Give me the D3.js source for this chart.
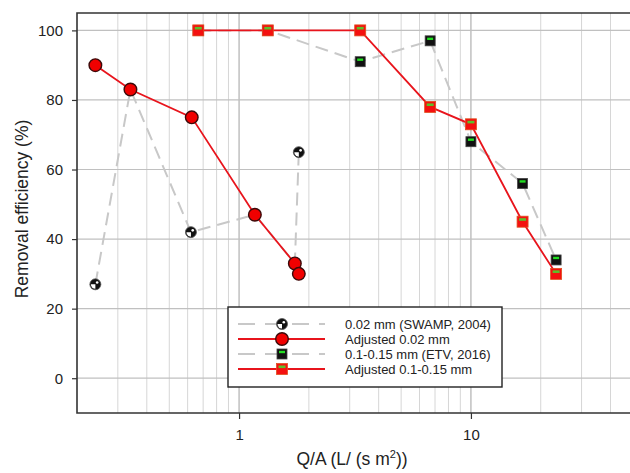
<!DOCTYPE html>
<html>
<head>
<meta charset="utf-8">
<script src="https://cdn.jsdelivr.net/npm/d3@7"></script>
<style>
  body { margin: 0; background: #fff; }
  svg { font-family: Arial, "Liberation Sans", sans-serif; }
</style>
</head>
<body>
<svg id="chart" width="630" height="473"></svg>
<script>
// data
const swampX = [0.24, 0.34, 0.62, 1.17, 1.74, 1.81];
const swampY = [27, 83, 42, 47, 33, 65];
const adjSwampX = [0.24, 0.34, 0.625, 1.17, 1.74, 1.81];
const adjSwampY = [90, 83, 75, 47, 33, 30];
const etvX = [0.667, 1.33, 3.33, 6.67, 10, 16.7, 23.3];
const etvY = [100, 100, 91, 97, 68, 56, 34];
const adjEtvY = [100, 100, 100, 78, 73, 45, 30];
const yTicks = [0, 20, 40, 60, 80, 100];
const xLabelTicks = [1, 10];
const legendLabels = ['0.02 mm (SWAMP, 2004)', 'Adjusted 0.02 mm', '0.1-0.15 mm (ETV, 2016)', 'Adjusted 0.1-0.15 mm'];

const svg = d3.select('#chart');
const m = { left: 77, top: 13, right: 633, bottom: 413 };

const x = d3.scaleLog().domain([0.2, 50]).range([m.left, m.right]);
const y = d3.scaleLinear().domain([-10, 105]).range([m.bottom, m.top]);

const zip = (xs, ys) => xs.map((v, i) => ({ x: v, y: ys[i] }));
const s1 = zip(swampX, swampY);
const s2 = zip(adjSwampX, adjSwampY);
const s3 = zip(etvX, etvY);
const s4 = zip(etvX, adjEtvY);

// grid
const minor = [];
[0.1, 1, 10].forEach(d => { for (let k = 2; k <= 9; k++) minor.push(d * k); });
const grid = svg.append('g');
grid.selectAll('.vminor').data(minor.filter(v => v > 0.2 && v < 50)).enter().append('line')
  .attr('x1', d => x(d)).attr('x2', d => x(d)).attr('y1', m.top).attr('y2', m.bottom)
  .attr('stroke', '#d6d6d6').attr('stroke-width', 1);
grid.selectAll('.vmajor').data(xLabelTicks).enter().append('line')
  .attr('x1', d => x(d)).attr('x2', d => x(d)).attr('y1', m.top).attr('y2', m.bottom)
  .attr('stroke', '#b0b0b0').attr('stroke-width', 1.2);
grid.selectAll('.h').data(yTicks).enter().append('line')
  .attr('x1', m.left).attr('x2', m.right).attr('y1', d => y(d)).attr('y2', d => y(d))
  .attr('stroke', '#c0c0c0').attr('stroke-width', 1.2);

// axes
const yAxis = svg.append('g').attr('transform', `translate(${m.left},0)`)
  .call(d3.axisLeft(y).tickValues(yTicks).tickSize(5).tickPadding(9));
const xAxis = svg.append('g').attr('transform', `translate(0,${m.bottom})`)
  .call(d3.axisBottom(x).tickValues(xLabelTicks).tickFormat(d3.format('d')).tickSize(6).tickPadding(10));
[yAxis, xAxis].forEach(a => {
  a.select('.domain').remove();
  a.selectAll('line').attr('stroke', '#333').attr('stroke-width', 1.2);
  a.selectAll('text').attr('font-size', 15).attr('fill', '#222')
    .attr('font-family', 'Arial, "Liberation Sans", sans-serif');
});

// frame
svg.append('path')
  .attr('d', `M${m.right},${m.top}H${m.left}V${m.bottom}H${m.right}`)
  .attr('fill', 'none').attr('stroke', '#333').attr('stroke-width', 1.6);

// titles
svg.append('text').attr('transform', 'translate(28,209) rotate(-90)')
  .attr('text-anchor', 'middle').attr('font-size', 17.5).attr('fill', '#222')
  .text('Removal efficiency (%)');
const xt = svg.append('text').attr('x', 352).attr('y', 465).attr('text-anchor', 'middle')
  .attr('font-size', 17.5).attr('fill', '#222');
xt.append('tspan').text('Q/A (L/ (s m');
xt.append('tspan').attr('font-size', 11).attr('dy', -7).text('2');
xt.append('tspan').attr('dy', 7).text('))');

// lines
const line = d3.line().x(d => x(d.x)).y(d => y(d.y));
const dashed = { stroke: '#c8c8c8', width: 2, dash: '13,7' };
const red = { stroke: '#e8141c', width: 1.8, dash: null };
function drawLine(data, st) {
  svg.append('path').datum(data).attr('d', line)
    .attr('fill', 'none').attr('stroke', st.stroke).attr('stroke-width', st.width)
    .attr('stroke-dasharray', st.dash);
}

// markers
function swampMarker(g) {
  g.append('circle').attr('r', 5.5).attr('fill', '#111').attr('stroke', '#555').attr('stroke-width', 0.8);
  g.append('path').attr('d', d3.arc()({ innerRadius: 0, outerRadius: 4.5, startAngle: Math.PI, endAngle: Math.PI * 1.5 }))
    .attr('fill', '#fff');
  g.append('circle').attr('r', 1.3).attr('cx', 1.8).attr('cy', -1.8).attr('fill', '#fff');
}
function redCircle(g) {
  g.append('circle').attr('r', 6.3).attr('fill', '#f00000').attr('stroke', '#3a0a0a').attr('stroke-width', 1.4);
}
function etvMarker(g) {
  g.append('rect').attr('x', -5).attr('y', -5).attr('width', 10).attr('height', 10)
    .attr('fill', '#111').attr('stroke', '#444').attr('stroke-width', 0.8);
  g.append('rect').attr('x', -3).attr('y', -3.2).attr('width', 6).attr('height', 2.4).attr('fill', '#22dd22');
}
function adjEtvMarker(g) {
  g.append('rect').attr('x', -5.5).attr('y', -5.5).attr('width', 11).attr('height', 11)
    .attr('fill', '#f41010').attr('stroke', '#e05020').attr('stroke-width', 0.8);
  g.append('rect').attr('x', -3.5).attr('y', -3.5).attr('width', 7).attr('height', 2.6).attr('fill', '#5cc02a');
}
function drawMarkers(data, fn) {
  svg.append('g').selectAll('g').data(data).enter().append('g')
    .attr('transform', d => `translate(${x(d.x)},${y(d.y)})`)
    .each(function () { fn(d3.select(this)); });
}

drawLine(s1, dashed);
drawMarkers(s1, swampMarker);
drawLine(s3, dashed);
drawMarkers(s3, etvMarker);
drawLine(s2, red);
drawMarkers(s2, redCircle);
drawLine(s4, red);
drawMarkers(s4, adjEtvMarker);

// legend
const lg = svg.append('g');
lg.append('rect').attr('x', 228).attr('y', 307).attr('width', 274).attr('height', 80)
  .attr('fill', '#fff').attr('stroke', '#222').attr('stroke-width', 1.4);
const legendStyles = [[dashed, swampMarker], [red, redCircle], [dashed, etvMarker], [red, adjEtvMarker]];
legendLabels.forEach((lab, i) => {
  const yy = 324 + i * 15;
  const [st, mk] = legendStyles[i];
  lg.append('line').attr('x1', 238).attr('x2', 325).attr('y1', yy).attr('y2', yy)
    .attr('stroke', st.stroke).attr('stroke-width', st.width)
    .attr('stroke-dasharray', st.dash ? '17,10' : null);
  const g = lg.append('g').attr('transform', `translate(282,${yy})`);
  mk(g);
  lg.append('text').attr('x', 345).attr('y', yy + 4.5).attr('font-size', 13).attr('fill', '#222').text(lab);
});
</script>
</body>
</html>
